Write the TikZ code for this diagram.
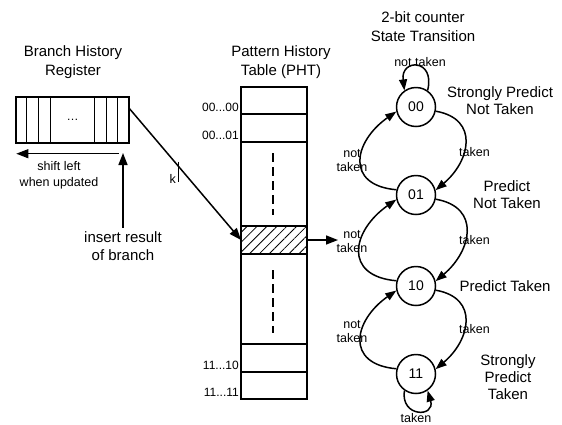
\documentclass[tikz,border=0pt]{standalone}
\usepackage{fontspec}
\setmainfont{Liberation Sans}
\usetikzlibrary{positioning,calc}
\usetikzlibrary{arrows.meta,patterns.meta}
\tikzset{
  st/.style={circle,draw=black,line width=1.5pt,minimum size=39pt,inner sep=0pt,font=\fontsize{14}{16}\selectfont},
  trans/.style={draw=black,line width=1.5pt,-{Triangle[length=11pt,width=8pt]}},
  arr/.style={draw=black,line width=1.5pt,-{Triangle[length=12pt,width=9pt]}},
  row/.style={draw=black,line width=1.4pt,minimum width=66pt,inner sep=0pt,outer sep=0pt},
  ttl/.style={align=center,font=\fontsize{15}{19}\selectfont},
}
\tikzset{desc/.style={align=center,font=\fontsize{15}{17}\selectfont}, lab/.style={align=center,inner sep=0pt,font=\fontsize{12.5}{14}\selectfont},addr/.style={anchor=base east,inner sep=0pt,font=\fontsize{12}{13}\selectfont}}

\begin{document}
\begin{tikzpicture}[x=1pt,y=1pt]
\useasboundingbox (0,0) rectangle (562,-424);
% branch history register
\node[ttl] (bhrtitle) at (73,-62) {Branch History\\Register};
\node[draw=black,line width=1.4pt,minimum width=113pt,minimum height=46pt,inner sep=0pt,font=\fontsize{12}{14}\selectfont] (bhr) at (72.5,-120) {\dots};
\foreach \x in {11,23,35,79,91,102}
  \draw[line width=1.4pt] ($(bhr.north west)+(\x,0)$) -- ($(bhr.south west)+(\x,0)$);
\coordinate (shiftR) at ($(bhr.south east)+(-11,-10)$);
\coordinate (shiftL) at ($(bhr.south west)+(1,-10)$);
\draw[arr,line width=1.1pt] (shiftR) -- (shiftL);
\node[lab,font=\fontsize{12.5}{16}\selectfont] (shifttxt) at (59,-175) {shift left\\when updated};
\coordinate (instip) at (123,-153);
\node[ttl,font=\fontsize{15}{18}\selectfont] (insert) at (123,-246) {insert result\\of branch};
\draw[arr] (insert) -- (instip);
% pattern history table
\node[ttl] (phttitle) at (281,-62) {Pattern History\\Table (PHT)};
\node[row,minimum height=27pt] (r00) at (274,-100.5) {};
\node[row,minimum height=28pt,below=0pt of r00] (r01) {};
\node[row,minimum height=84pt,below=0pt of r01] (gapA) {};
\node[row,minimum height=28pt,below=0pt of gapA,pattern={Lines[angle=45,distance=7pt,line width=0.8pt]}] (hot) {};
\node[row,minimum height=90pt,below=0pt of hot] (gapB) {};
\node[row,minimum height=28pt,below=0pt of gapB] (r10) {};
\node[row,minimum height=27pt,below=0pt of r10] (r11) {};
\draw[line width=2pt,dash pattern=on 9pt off 5pt] ($(gapA.north)+(-1,-11)$) -- ($(gapA.south)+(-1,11)$);
\draw[line width=2pt,dash pattern=on 9pt off 5pt] ($(gapB.north)+(-1,-16)$) -- ($(gapB.south)+(-1,11)$);
\node[addr] (a00) at ($(r00.south west)+(-2,3)$) {00...00};
\node[addr] (a01) at ($(r01.south west)+(-2,3)$) {00...01};
\node[addr] (a10) at ($(r10.south west)+(-2,3)$) {11...10};
\node[addr] (a11) at ($(r11.south west)+(-2,3)$) {11...11};
% index into the table
\draw[arr] (bhr.11) -- (hot.west) coordinate[pos=0.44] (kmark);
\draw[line width=1.4pt] ($(kmark)+(0,5)$) -- ($(kmark)+(0,-15)$);
\node[lab] (klab) at ($(kmark)+(-6,-12)$) {k};
\coordinate (phtout) at (338,-240);
\draw[arr] (hot.east) -- (phtout);
% 2-bit counter
\node[ttl] (smtitle) at (423,-27) {2-bit counter\\State Transition};
\node[st] (s00) at (416,-107) {00};
\node[st] (s01) at (416,-195) {01};
\node[st] (s10) at (416,-286) {10};
\node[st] (s11) at (416,-374) {11};
\draw[trans] (s00.55) .. controls +(8,32) and +(-4,32) .. (s00.125);
\draw[trans] (s11.235) .. controls +(-4,-27) and +(8,-27) .. (s11.-55);
\draw[trans] (s00.-12) to[out=-10,in=40,looseness=1.45] (s01.14);
\draw[trans] (s01.-12) to[out=-10,in=40,looseness=1.45] (s10.14);
\draw[trans] (s10.-12) to[out=-10,in=40,looseness=1.45] (s11.14);
\draw[trans] (s01.165) to[out=175,in=215,looseness=1.7] (s00.193);
\draw[trans] (s10.165) to[out=175,in=215,looseness=1.7] (s01.193);
\draw[trans] (s11.165) to[out=175,in=215,looseness=1.7] (s10.193);
\node[lab] (nt00) at (420,-62) {not taken};
\node[lab] (t11) at (416,-418) {taken};
\node[lab] (nt01) at (352,-161) {not\\taken};
\node[lab] (nt10) at (352,-242) {not\\taken};
\node[lab] (nt11) at (352,-332) {not\\taken};
\node[lab,anchor=west] (t01) at (459,-152) {taken};
\node[lab,anchor=west] (t10) at (459,-240) {taken};
\node[lab,anchor=west] (t12) at (459,-329) {taken};
\node[desc] (d00) at (500,-101) {Strongly Predict\\Not Taken};
\node[desc] (d01) at (507,-195) {Predict\\Not Taken};
\node[desc] (d10) at (505,-286) {Predict Taken};
\node[desc] (d11) at (508,-377) {Strongly\\Predict\\Taken};
\end{tikzpicture}
\end{document}
